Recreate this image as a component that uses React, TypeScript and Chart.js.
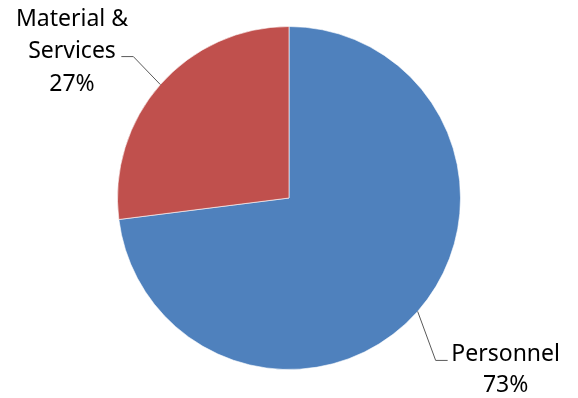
import React, { useEffect, useRef } from "react";
import { Chart, registerables } from "chart.js";

Chart.register(...registerables);

const categories = ["Personnel", "Material & Services"];
const values = [73, 27];
const labelLines = [["Personnel", "73%"], ["Material &", "Services", "27%"]];
const colors = ["#4F81BD", "#C0504D"];

const FONT = '23px "Noto Sans"';

const labelPlugin = {
  id: "leaderLabels",
  afterDraw(chart: any) {
    const ctx = chart.ctx;
    const meta = chart.getDatasetMeta(0);
    ctx.save();
    ctx.font = FONT;
    ctx.fillStyle = "#000";
    ctx.strokeStyle = "#595959";
    ctx.lineWidth = 1;
    ctx.textBaseline = "alphabetic";
    ctx.textAlign = "center";
    meta.data.forEach((arc: any, i: number) => {
      const p = arc.getProps(["x", "y", "startAngle", "endAngle", "outerRadius"], true);
      const mid = (p.startAngle + p.endAngle) / 2;
      const ax = p.x + Math.cos(mid) * p.outerRadius;
      const ay = p.y + Math.sin(mid) * p.outerRadius;
      const right = Math.cos(mid) >= 0;
      const lines = labelLines[i];
      ctx.beginPath();
      if (right) {
        const ex = ax + 18, ey = ay + 49;
        ctx.moveTo(ax, ay);
        ctx.lineTo(ex, ey);
        ctx.lineTo(ex + 12, ey);
        ctx.stroke();
        const cx = ex + 70;
        ctx.fillText(lines[0], cx, 361);
        ctx.fillText(lines[1], cx, 392);
      } else {
        const ex = ax - 27, ey = ay - 28;
        ctx.moveTo(ax, ay);
        ctx.lineTo(ex, ey);
        ctx.lineTo(ex - 12, ey);
        ctx.stroke();
        const cx = 72;
        ctx.fillText(lines[0], cx, 26);
        ctx.fillText(lines[1], cx, 58);
        ctx.fillText(lines[2], cx, 91);
      }
    });
    ctx.restore();
  },
};

export default function App() {
  const ref = useRef<HTMLCanvasElement>(null);
  useEffect(() => {
    document.body.style.margin = "0";
    const chart = new Chart(ref.current!, {
      type: "pie",
      data: {
        labels: categories,
        datasets: [
          {
            data: values,
            backgroundColor: colors,
            borderColor: "rgba(255,255,255,0.6)",
            borderWidth: 1,
          },
        ],
      },
      options: {
        animation: false,
        responsive: false,
        layout: { padding: { top: 26, bottom: 28 } },
        plugins: { legend: { display: false }, tooltip: { enabled: false } },
      },
      plugins: [labelPlugin],
    });
    return () => chart.destroy();
  }, []);
  return (
    <div style={{ width: 578, height: 398, background: "#fff" }}>
      <canvas ref={ref} width={578} height={398} style={{ display: "block" }} />
    </div>
  );
}
